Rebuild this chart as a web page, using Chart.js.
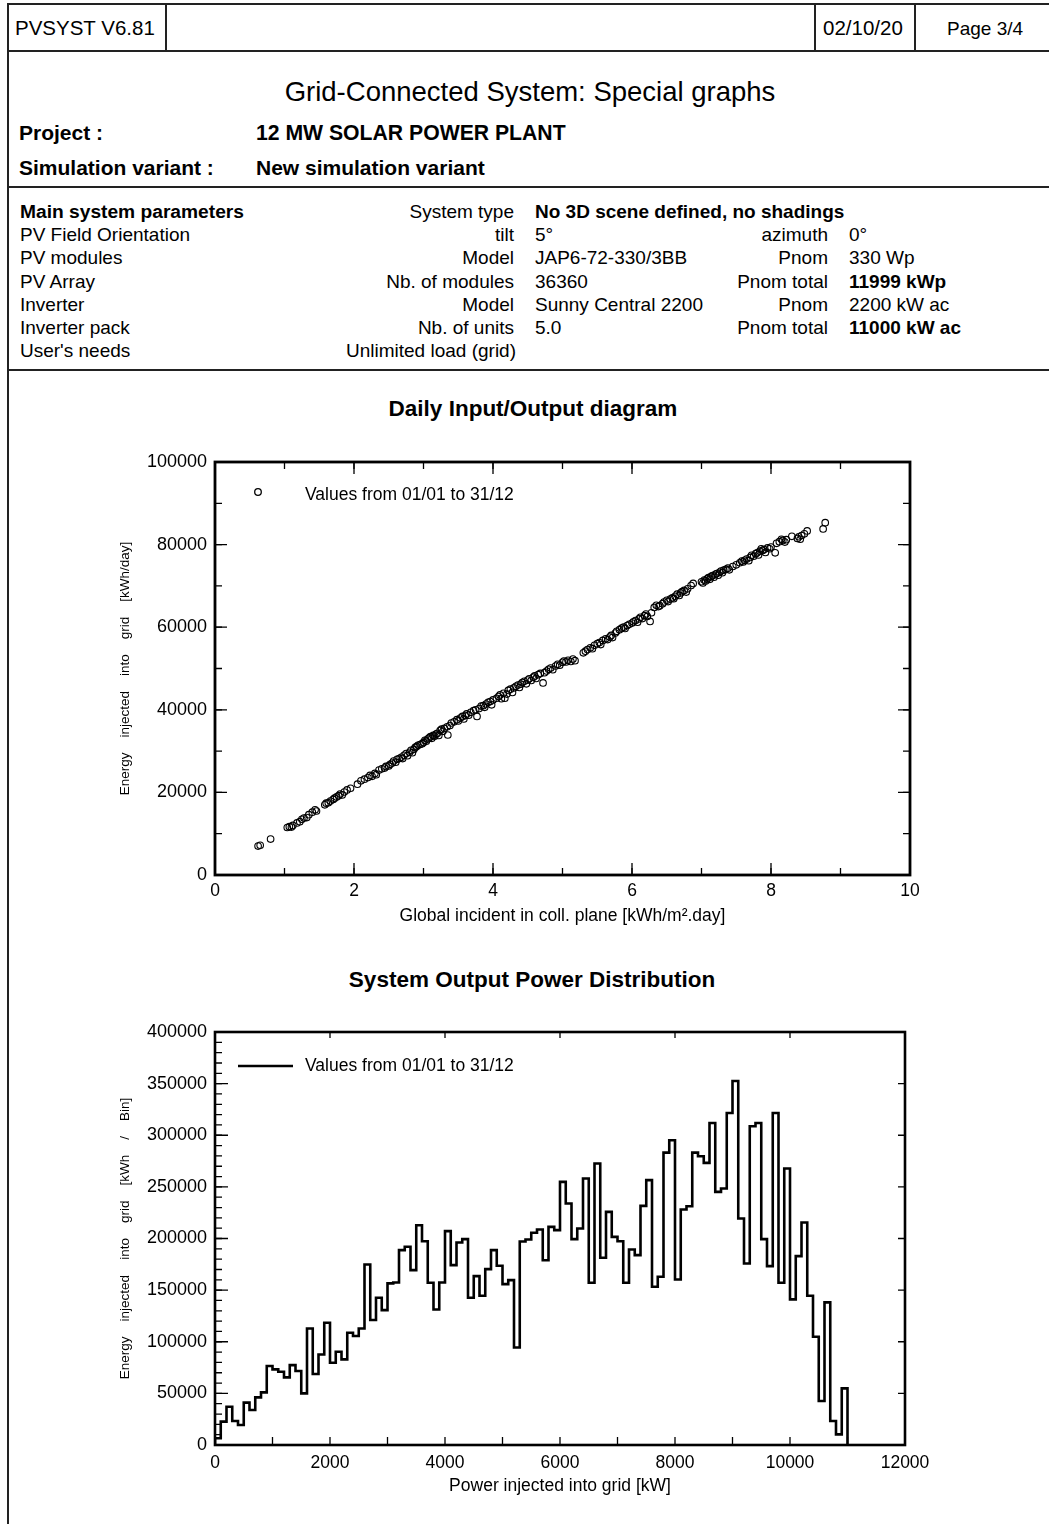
<!DOCTYPE html>
<html><head><meta charset="utf-8">
<script src="https://cdn.jsdelivr.net/npm/chart.js@4.4.1/dist/chart.umd.min.js"></script>
<style>
body{margin:0;background:#fff;}
#page{position:relative;width:1049px;height:1524px;overflow:hidden;font-family:"Liberation Sans",Arial,sans-serif;color:#000;}
.t{position:absolute;white-space:nowrap;line-height:1;}
.r{text-align:right;}
.c{text-align:center;}
.b{font-weight:bold;}
.hl{position:absolute;background:#222;}
canvas{position:absolute;left:0;}
</style></head>
<body>
<div id="page">
  <!-- frame lines -->
  <div class="hl" style="left:7px;top:3px;width:1042px;height:1.5px"></div>
  <div class="hl" style="left:7px;top:50px;width:1042px;height:2px"></div>
  <div class="hl" style="left:7px;top:3px;width:1.5px;height:1521px"></div>
  <div class="hl" style="left:165px;top:3px;width:1.5px;height:48px"></div>
  <div class="hl" style="left:814px;top:3px;width:1.5px;height:48px"></div>
  <div class="hl" style="left:914px;top:3px;width:1.5px;height:48px"></div>
  <div class="hl" style="left:7px;top:186px;width:1042px;height:2px"></div>
  <div class="hl" style="left:7px;top:369px;width:1042px;height:2px"></div>

  <div class="t" style="left:15px;top:18px;font-size:20.5px">PVSYST V6.81</div>
  <div class="t" style="left:823px;top:18px;font-size:20.5px">02/10/20</div>
  <div class="t" style="left:947px;top:19px;font-size:19px">Page 3/4</div>

  <div class="t c" style="left:30px;width:1000px;top:78px;font-size:27.5px">Grid-Connected System: Special graphs</div>
  <div class="t b" style="left:19px;top:122px;font-size:21px">Project :</div>
  <div class="t b" style="left:256px;top:122px;font-size:21.2px">12 MW SOLAR POWER PLANT</div>
  <div class="t b" style="left:19px;top:157px;font-size:21px">Simulation variant :</div>
  <div class="t b" style="left:256px;top:157px;font-size:21px">New simulation variant</div>

  <div class="t b" style="left:20px;top:202px;font-size:19.2px">Main system parameters</div>
  <div class="t r" style="right:535px;top:202px;font-size:19px">System type</div>
  <div class="t b" style="left:535px;top:202px;font-size:19px">No 3D scene defined, no shadings</div>

  <div class="t" style="left:20px;top:225px;font-size:19px">PV Field Orientation</div>
  <div class="t r" style="right:535px;top:225px;font-size:19px">tilt</div>
  <div class="t" style="left:535px;top:225px;font-size:19px">5°</div>
  <div class="t r" style="right:221px;top:225px;font-size:19px">azimuth</div>
  <div class="t" style="left:849px;top:225px;font-size:19px">0°</div>

  <div class="t" style="left:20px;top:248px;font-size:19px">PV modules</div>
  <div class="t r" style="right:535px;top:248px;font-size:19px">Model</div>
  <div class="t" style="left:535px;top:248px;font-size:19px">JAP6-72-330/3BB</div>
  <div class="t r" style="right:221px;top:248px;font-size:19px">Pnom</div>
  <div class="t" style="left:849px;top:248px;font-size:19px">330 Wp</div>

  <div class="t" style="left:20px;top:272px;font-size:19px">PV Array</div>
  <div class="t r" style="right:535px;top:272px;font-size:19px">Nb. of modules</div>
  <div class="t" style="left:535px;top:272px;font-size:19px">36360</div>
  <div class="t r" style="right:221px;top:272px;font-size:19px">Pnom total</div>
  <div class="t b" style="left:849px;top:272px;font-size:19px">11999 kWp</div>

  <div class="t" style="left:20px;top:295px;font-size:19px">Inverter</div>
  <div class="t r" style="right:535px;top:295px;font-size:19px">Model</div>
  <div class="t" style="left:535px;top:295px;font-size:19px">Sunny Central 2200</div>
  <div class="t r" style="right:221px;top:295px;font-size:19px">Pnom</div>
  <div class="t" style="left:849px;top:295px;font-size:19px">2200 kW ac</div>

  <div class="t" style="left:20px;top:318px;font-size:19px">Inverter pack</div>
  <div class="t r" style="right:535px;top:318px;font-size:19px">Nb. of units</div>
  <div class="t" style="left:535px;top:318px;font-size:19px">5.0</div>
  <div class="t r" style="right:221px;top:318px;font-size:19px">Pnom total</div>
  <div class="t b" style="left:849px;top:318px;font-size:19px">11000 kW ac</div>

  <div class="t" style="left:20px;top:341px;font-size:19px">User's needs</div>
  <div class="t r" style="right:533px;top:341px;font-size:19px">Unlimited load (grid)</div>

  <div class="t c b" style="left:33px;width:1000px;top:398px;font-size:22.5px">Daily Input/Output diagram</div>
  <div class="t c b" style="left:32px;width:1000px;top:969px;font-size:22.5px">System Output Power Distribution</div>

  <canvas id="c1" width="1049" height="500" style="top:440px;width:1049px;height:500px"></canvas>
  <canvas id="c2" width="1049" height="500" style="top:1010px;width:1049px;height:500px"></canvas>
</div>
<script>
// ---------- Daily Input/Output diagram (scatter) ----------
const scatterIrradiance = [
0.62,0.65,0.80,1.04,1.07,1.10,1.12,1.18,1.22,1.25,1.28,1.32,1.35,1.40,1.44,1.46,1.58,1.60,1.63,1.66,
1.70,1.72,1.75,1.78,1.80,1.83,1.86,1.90,1.95,2.05,2.10,2.15,2.20,2.23,2.26,2.30,2.32,2.36,2.40,2.44,
2.46,2.50,2.52,2.55,2.57,2.60,2.62,2.65,2.68,2.70,2.72,2.75,2.77,2.80,2.82,2.84,2.86,2.88,2.90,2.92,
2.95,2.98,3.00,3.02,3.04,3.06,3.08,3.10,3.12,3.14,3.16,3.18,3.20,3.22,3.24,3.26,3.28,3.30,3.35,3.34,
3.38,3.40,3.44,3.48,3.50,3.53,3.56,3.58,3.60,3.62,3.65,3.68,3.77,3.72,3.75,3.80,3.83,3.86,3.88,3.90,
3.93,3.96,3.98,4.00,4.05,4.08,4.10,4.12,4.15,4.17,4.20,4.22,4.25,4.28,4.30,4.33,4.36,4.38,4.40,4.42,
4.45,4.48,4.50,4.52,4.55,4.58,4.60,4.62,4.65,4.68,4.72,4.74,4.77,4.80,4.83,4.86,4.90,4.93,4.96,5.00,
5.02,5.05,5.08,5.12,5.15,5.18,5.30,5.33,5.36,5.40,5.43,5.46,5.50,5.53,5.55,5.58,5.62,5.65,5.68,5.70,
5.72,5.76,5.78,5.82,5.85,5.88,5.90,5.93,5.96,6.00,6.02,6.05,6.08,6.10,6.12,6.15,6.18,6.20,6.22,6.26,
6.28,6.32,6.35,6.38,6.40,6.44,6.46,6.50,6.52,6.55,6.58,6.60,6.62,6.65,6.68,6.70,6.72,6.75,6.78,6.80,
6.85,6.88,7.00,7.02,7.04,7.06,7.08,7.10,7.12,7.14,7.16,7.18,7.20,7.22,7.24,7.26,7.28,7.30,7.32,7.35,
7.38,7.40,7.45,7.50,7.55,7.58,7.60,7.62,7.65,7.68,7.70,7.72,7.75,7.78,7.80,7.82,7.84,7.86,7.88,7.90,
7.92,7.95,7.98,8.00,8.06,8.08,8.12,8.15,8.17,8.20,8.22,8.30,8.38,8.40,8.42,8.44,8.48,8.52,8.75,8.78
];
const scatterEnergy = [
7000,7200,8700,11500,11700,11600,12000,12600,12900,13500,13800,13900,14600,15200,15800,15500,17000,17400,17500,17900,
18300,18600,18900,19200,19600,19400,20100,20600,21000,22000,22800,23200,23600,24100,23900,24600,24300,25400,25700,25900,
26300,26400,26800,27100,27600,27300,28000,28200,28500,28200,29000,29400,28900,29700,30200,29600,30400,30900,31100,31400,
31600,31800,32100,32600,32400,32900,33200,33500,33100,33800,33600,34100,34300,33800,35000,35300,34800,35500,33900,35900,
36200,36800,37100,37600,37300,38000,38400,37800,38600,39000,38700,39400,38400,39800,40000,40300,40900,41000,40600,41400,
41800,42000,41200,42400,42800,43200,43600,42700,44000,42800,43800,44700,45000,44200,45300,45700,46000,45400,46200,46600,
46900,46300,47200,47500,47100,47900,48200,47600,48500,48800,46500,49000,49400,49800,50100,49700,50600,51000,50800,51500,
51800,51600,52000,51700,52300,51900,53800,54200,54600,55000,54800,55600,56000,56300,55800,56800,57200,57000,57600,58000,
57500,58600,59000,59400,59800,60000,59700,60400,60700,61000,61300,61600,61200,62000,62400,62100,62800,63200,62600,61400,
63500,64800,65300,65000,65200,65700,66100,66500,66200,66800,67100,66900,67500,68000,67700,68300,68600,68900,68500,69300,
70100,70600,71000,70700,71400,71200,71700,72000,71600,72300,72500,72100,72800,73000,72600,73300,73600,73200,73800,74000,
74300,73900,74700,75100,75600,76000,75800,76200,76500,76100,76900,77400,77200,77800,78000,77500,78400,79000,78600,78800,
78100,79200,79000,79400,78000,80300,80700,81300,81000,80600,81200,82000,81500,81900,81300,82200,82600,83300,83800,85300
];
const scatterXTicks = [0, 2, 4, 6, 8, 10];
const scatterYTicks = [0, 20000, 40000, 60000, 80000, 100000];

// ---------- System Output Power Distribution (histogram, 100 kW bins) ----------
const binWidthKW = 100;
const histEnergy = [
6500,22600,37100,23200,19400,41000,33900,46100,51000,76500,
73200,71000,65500,77400,71600,50000,112900,68700,87700,118400,
79700,90300,82900,108700,105500,112900,174800,121000,142600,130600,
156500,157400,188700,192000,169400,212900,197400,157100,131300,157400,
207100,174200,196100,199400,142600,163600,144500,170300,188700,173600,
155800,159700,94500,197100,199000,205500,208700,179000,211300,208100,
254800,233900,199400,209700,258100,157100,272600,181300,225800,201600,
197400,157100,189400,183900,231600,256500,153200,162900,283200,295200,
160300,228100,231300,283200,279700,273200,311900,245200,248400,321600,
352600,219400,175800,308700,311900,199400,173200,321600,157100,267800,
141000,182900,215500,144500,104800,42600,138100,23200,10300,54800
];
const histXTicks = [0, 2000, 4000, 6000, 8000, 10000, 12000];
const histYTicks = [0, 50000, 100000, 150000, 200000, 250000, 300000, 350000, 400000];
const legendText = 'Values from 01/01 to 31/12';

const FONT = '"Liberation Sans", Arial, sans-serif';

// inward ticks + frame drawn from the chart's scales
const frameTicks = {
  id: 'frameTicks',
  afterDatasetsDraw(chart, args, o) {
    const {ctx, chartArea: a, scales: {x, y}} = chart;
    ctx.save();
    ctx.strokeStyle = '#000';
    const seq = (min, max, step) => { const r = []; for (let v = min; v <= max + 1e-9; v += step) r.push(v); return r; };
    const drawX = (vals, len, w, side) => {
      ctx.lineWidth = w; ctx.beginPath();
      vals.forEach(v => { const px = x.getPixelForValue(v);
        if (side === 'bottom') { ctx.moveTo(px, a.bottom); ctx.lineTo(px, a.bottom - len); }
        else { ctx.moveTo(px, a.top); ctx.lineTo(px, a.top + len); } });
      ctx.stroke();
    };
    const drawY = (vals, len, w, side) => {
      ctx.lineWidth = w; ctx.beginPath();
      vals.forEach(v => { const py = y.getPixelForValue(v);
        if (side === 'left') { ctx.moveTo(a.left, py); ctx.lineTo(a.left + len, py); }
        else { ctx.moveTo(a.right, py); ctx.lineTo(a.right - len, py); } });
      ctx.stroke();
    };
    o.ticks.forEach(t => {
      const vals = seq(t.axis === 'x' ? x.min : y.min, t.axis === 'x' ? x.max : y.max, t.step);
      if (t.axis === 'x') drawX(vals, t.len, t.w, t.side); else drawY(vals, t.len, t.w, t.side);
    });
    ctx.lineWidth = o.frame;
    ctx.strokeRect(a.left, a.top, a.right - a.left, a.bottom - a.top);
    // legend inside the plot
    const L = o.legend;
    ctx.fillStyle = '#000';
    ctx.font = '17.5px ' + FONT;
    ctx.textBaseline = 'middle';
    ctx.fillText(chart.data.datasets[0].label, a.left + L.textX, a.top + L.y);
    if (L.type === 'circle') {
      ctx.lineWidth = 1.3; ctx.beginPath();
      ctx.arc(a.left + L.markX, a.top + L.y - 3, 3.3, 0, Math.PI * 2); ctx.stroke();
    } else {
      ctx.lineWidth = 2.6; ctx.beginPath();
      ctx.moveTo(a.left + L.markX, a.top + L.y); ctx.lineTo(a.left + L.markX2, a.top + L.y); ctx.stroke();
    }
    ctx.restore();
  }
};

function axisY(ticks, min, max, title, fixedWidth) {
  return {
    type: 'linear', min, max,
    afterBuildTicks: s => { s.ticks = ticks.map(v => ({value: v})); },
    afterFit: s => { s.width = fixedWidth; },
    grid: {display: false, drawTicks: false},
    border: {display: false},
    ticks: {color: '#000', font: {family: FONT, size: 18}, padding: 8, callback: v => String(v)},
    title: {display: true, text: title, color: '#000', font: {family: FONT, size: 13.5, lineHeight: 1.2}, padding: {top: 117, bottom: 0}}
  };
}
function axisX(ticks, min, max, title, pad) {
  return {
    type: 'linear', min, max,
    afterBuildTicks: s => { s.ticks = ticks.map(v => ({value: v})); },
    afterFit: s => { s.height = 65; },
    grid: {display: false, drawTicks: false},
    border: {display: false},
    ticks: {color: '#000', font: {family: FONT, size: 17.5}, padding: pad, maxRotation: 0, autoSkip: false, callback: v => String(v)},
    title: {display: true, text: title, color: '#000', font: {family: FONT, size: 17.5, lineHeight: 1.2}, padding: {top: 0, bottom: 13}}
  };
}

new Chart(document.getElementById('c1'), {
  type: 'scatter',
  data: {datasets: [{
    label: legendText,
    data: scatterIrradiance.map((v, i) => ({x: v, y: scatterEnergy[i]})),
    pointStyle: 'circle', pointRadius: 3.3, borderWidth: 1.1,
    borderColor: '#000', backgroundColor: 'rgba(0,0,0,0)', showLine: false
  }]},
  options: {
    responsive: false, animation: false, events: [],
    layout: {padding: {left: 0, right: 139, top: 22, bottom: 0}},
    plugins: {legend: {display: false}, tooltip: {enabled: false},
      frameTicks: {frame: 2.8,
        legend: {type: 'circle', markX: 43, textX: 90, y: 33},
        ticks: [
          {axis: 'x', step: 2, len: 12, w: 1.3, side: 'bottom'}, {axis: 'x', step: 1, len: 7, w: 1.3, side: 'bottom'},
          {axis: 'x', step: 2, len: 12, w: 1.3, side: 'top'}, {axis: 'x', step: 1, len: 7, w: 1.3, side: 'top'},
          {axis: 'y', step: 20000, len: 12, w: 1.3, side: 'left'}, {axis: 'y', step: 10000, len: 7, w: 1.3, side: 'left'},
          {axis: 'y', step: 20000, len: 12, w: 1.3, side: 'right'}, {axis: 'y', step: 10000, len: 7, w: 1.3, side: 'right'}
        ]}},
    scales: {
      x: axisX(scatterXTicks, 0, 10, 'Global incident in coll. plane [kWh/m².day]', 6),
      y: axisY(scatterYTicks, 0, 100000, 'Energy    injected    into    grid    [kWh/day]', 215)
    }
  },
  plugins: [frameTicks]
});

const histPoints = [{x: 0, y: 0}];
histEnergy.forEach((v, i) => histPoints.push({x: i * binWidthKW, y: v}));
histPoints.push({x: histEnergy.length * binWidthKW, y: 0});

new Chart(document.getElementById('c2'), {
  type: 'line',
  data: {datasets: [{
    label: legendText,
    data: histPoints,
    stepped: 'before', borderColor: '#000', borderWidth: 2.6, pointRadius: 0, fill: false,
    borderJoinStyle: 'miter'
  }]},
  options: {
    responsive: false, animation: false, events: [],
    layout: {padding: {left: 0, right: 144, top: 22, bottom: 0}},
    plugins: {legend: {display: false}, tooltip: {enabled: false},
      frameTicks: {frame: 2.6,
        legend: {type: 'line', markX: 23, markX2: 78, textX: 90, y: 34},
        ticks: [
          {axis: 'x', step: 1000, len: 8, w: 1.3, side: 'bottom'},
          {axis: 'x', step: 2000, len: 6, w: 1.3, side: 'top'},
          {axis: 'y', step: 50000, len: 13, w: 1.3, side: 'left'}, {axis: 'y', step: 10000, len: 7, w: 1.3, side: 'left'},
          {axis: 'y', step: 50000, len: 7, w: 1.3, side: 'right'}
        ]}},
    scales: {
      x: axisX(histXTicks, 0, 12000, 'Power injected into grid [kW]', 8),
      y: axisY(histYTicks, 0, 400000, 'Energy    injected    into    grid    [kWh    /    Bin]', 215)
    }
  },
  plugins: [frameTicks]
});
</script>
</body></html>
